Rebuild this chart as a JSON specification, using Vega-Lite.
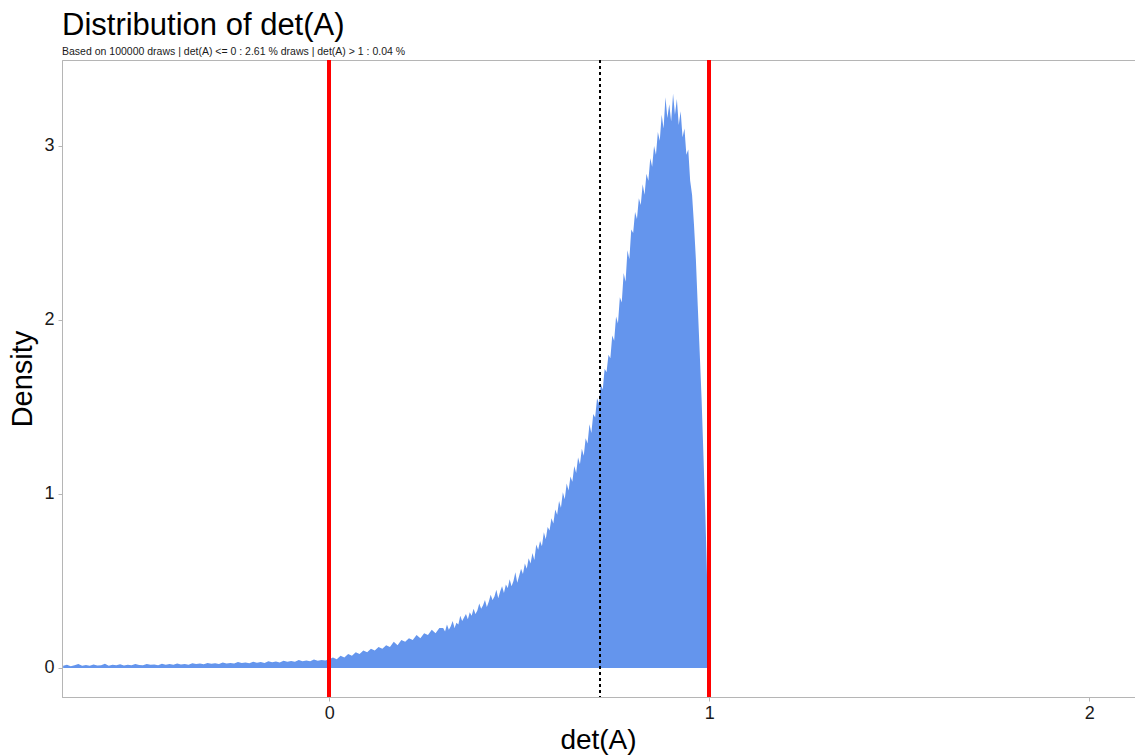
{
  "$schema": "https://vega.github.io/schema/vega-lite/v6.json",
  "width": 1080,
  "height": 637,
  "autosize": {"type": "none"},
  "padding": {"left": 62, "top": 60, "right": 0, "bottom": 58},
  "background": "white",
  "config": {
    "font": "Liberation Sans",
    "view": {"stroke": "#b5b5b5", "strokeWidth": 1},
    "axis": {"grid": false, "domainColor": "#b5b5b5", "tickColor": "#b5b5b5", "tickSize": 4, "labelColor": "#1a1a1a", "titleColor": "#000000", "labelFont": "Liberation Sans", "titleFont": "Liberation Sans", "titleFontWeight": "normal"}
  },
  "title": {
    "text": "Distribution of det(A)",
    "subtitle": "Based on 100000 draws | det(A) <= 0 : 2.61 % draws | det(A) > 1 : 0.04 %",
    "anchor": "start",
    "frame": "group",
    "fontSize": 31,
    "fontWeight": "normal",
    "font": "Liberation Sans",
    "color": "#000000",
    "subtitleFontSize": 10.5,
    "subtitleFont": "Liberation Sans",
    "subtitleColor": "#1a1a1a",
    "subtitlePadding": 5,
    "offset": 0
  },
  "data": {
    "values": [
      {"detA": -0.70, "density": 0.012}, {"detA": -0.69, "density": 0.018}, {"detA": -0.68, "density": 0.010}, {"detA": -0.67, "density": 0.015},
      {"detA": -0.66, "density": 0.022}, {"detA": -0.65, "density": 0.013}, {"detA": -0.64, "density": 0.017}, {"detA": -0.63, "density": 0.012},
      {"detA": -0.62, "density": 0.020}, {"detA": -0.61, "density": 0.014}, {"detA": -0.60, "density": 0.016}, {"detA": -0.59, "density": 0.024},
      {"detA": -0.58, "density": 0.013}, {"detA": -0.57, "density": 0.018}, {"detA": -0.56, "density": 0.015}, {"detA": -0.55, "density": 0.021},
      {"detA": -0.54, "density": 0.014}, {"detA": -0.53, "density": 0.019}, {"detA": -0.52, "density": 0.016}, {"detA": -0.51, "density": 0.022},
      {"detA": -0.50, "density": 0.017}, {"detA": -0.49, "density": 0.015}, {"detA": -0.48, "density": 0.023}, {"detA": -0.47, "density": 0.018},
      {"detA": -0.46, "density": 0.020}, {"detA": -0.45, "density": 0.016}, {"detA": -0.44, "density": 0.024}, {"detA": -0.43, "density": 0.019},
      {"detA": -0.42, "density": 0.022}, {"detA": -0.41, "density": 0.018}, {"detA": -0.40, "density": 0.025}, {"detA": -0.39, "density": 0.020},
      {"detA": -0.38, "density": 0.023}, {"detA": -0.37, "density": 0.019}, {"detA": -0.36, "density": 0.027}, {"detA": -0.35, "density": 0.022},
      {"detA": -0.34, "density": 0.025}, {"detA": -0.33, "density": 0.021}, {"detA": -0.32, "density": 0.029}, {"detA": -0.31, "density": 0.024},
      {"detA": -0.30, "density": 0.027}, {"detA": -0.29, "density": 0.023}, {"detA": -0.28, "density": 0.031}, {"detA": -0.27, "density": 0.026},
      {"detA": -0.26, "density": 0.029}, {"detA": -0.25, "density": 0.025}, {"detA": -0.24, "density": 0.034}, {"detA": -0.23, "density": 0.028},
      {"detA": -0.22, "density": 0.031}, {"detA": -0.21, "density": 0.027}, {"detA": -0.20, "density": 0.036}, {"detA": -0.19, "density": 0.030},
      {"detA": -0.18, "density": 0.034}, {"detA": -0.17, "density": 0.029}, {"detA": -0.16, "density": 0.039}, {"detA": -0.15, "density": 0.033},
      {"detA": -0.14, "density": 0.037}, {"detA": -0.13, "density": 0.032}, {"detA": -0.12, "density": 0.042}, {"detA": -0.11, "density": 0.036},
      {"detA": -0.10, "density": 0.040}, {"detA": -0.09, "density": 0.035}, {"detA": -0.08, "density": 0.045}, {"detA": -0.07, "density": 0.038},
      {"detA": -0.06, "density": 0.043}, {"detA": -0.05, "density": 0.039}, {"detA": -0.04, "density": 0.048}, {"detA": -0.03, "density": 0.041},
      {"detA": -0.02, "density": 0.046}, {"detA": -0.01, "density": 0.043},
      {"detA": 0.00, "density": 0.05}, {"detA": 0.01, "density": 0.06}, {"detA": 0.02, "density": 0.05}, {"detA": 0.03, "density": 0.07},
      {"detA": 0.04, "density": 0.06}, {"detA": 0.05, "density": 0.08}, {"detA": 0.06, "density": 0.07}, {"detA": 0.07, "density": 0.09},
      {"detA": 0.08, "density": 0.08}, {"detA": 0.09, "density": 0.10}, {"detA": 0.10, "density": 0.09}, {"detA": 0.11, "density": 0.11},
      {"detA": 0.12, "density": 0.10}, {"detA": 0.13, "density": 0.12}, {"detA": 0.14, "density": 0.11}, {"detA": 0.15, "density": 0.13},
      {"detA": 0.16, "density": 0.12}, {"detA": 0.17, "density": 0.15}, {"detA": 0.18, "density": 0.13}, {"detA": 0.19, "density": 0.16},
      {"detA": 0.20, "density": 0.15}, {"detA": 0.21, "density": 0.17}, {"detA": 0.22, "density": 0.16}, {"detA": 0.23, "density": 0.19},
      {"detA": 0.24, "density": 0.17}, {"detA": 0.25, "density": 0.20}, {"detA": 0.26, "density": 0.19}, {"detA": 0.27, "density": 0.22},
      {"detA": 0.28, "density": 0.20}, {"detA": 0.29, "density": 0.23},
      {"detA": 0.300, "density": 0.23}, {"detA": 0.305, "density": 0.21}, {"detA": 0.310, "density": 0.25}, {"detA": 0.315, "density": 0.22},
      {"detA": 0.320, "density": 0.24}, {"detA": 0.325, "density": 0.27}, {"detA": 0.330, "density": 0.23}, {"detA": 0.335, "density": 0.26},
      {"detA": 0.340, "density": 0.25}, {"detA": 0.345, "density": 0.30}, {"detA": 0.350, "density": 0.27}, {"detA": 0.355, "density": 0.29},
      {"detA": 0.360, "density": 0.31}, {"detA": 0.365, "density": 0.28}, {"detA": 0.370, "density": 0.32}, {"detA": 0.375, "density": 0.30},
      {"detA": 0.380, "density": 0.34}, {"detA": 0.385, "density": 0.31}, {"detA": 0.390, "density": 0.33}, {"detA": 0.395, "density": 0.37},
      {"detA": 0.400, "density": 0.34}, {"detA": 0.405, "density": 0.36}, {"detA": 0.410, "density": 0.39}, {"detA": 0.415, "density": 0.35},
      {"detA": 0.420, "density": 0.38}, {"detA": 0.425, "density": 0.42}, {"detA": 0.430, "density": 0.39}, {"detA": 0.435, "density": 0.41},
      {"detA": 0.440, "density": 0.45}, {"detA": 0.445, "density": 0.40}, {"detA": 0.450, "density": 0.44}, {"detA": 0.455, "density": 0.47},
      {"detA": 0.460, "density": 0.43}, {"detA": 0.465, "density": 0.48}, {"detA": 0.470, "density": 0.46}, {"detA": 0.475, "density": 0.51},
      {"detA": 0.480, "density": 0.47}, {"detA": 0.485, "density": 0.50}, {"detA": 0.490, "density": 0.55}, {"detA": 0.495, "density": 0.49},
      {"detA": 0.500, "density": 0.53}, {"detA": 0.505, "density": 0.57}, {"detA": 0.510, "density": 0.54}, {"detA": 0.515, "density": 0.60},
      {"detA": 0.520, "density": 0.57}, {"detA": 0.525, "density": 0.63}, {"detA": 0.530, "density": 0.60}, {"detA": 0.535, "density": 0.66},
      {"detA": 0.540, "density": 0.62}, {"detA": 0.545, "density": 0.71}, {"detA": 0.550, "density": 0.68}, {"detA": 0.555, "density": 0.73},
      {"detA": 0.560, "density": 0.70}, {"detA": 0.565, "density": 0.78}, {"detA": 0.570, "density": 0.74}, {"detA": 0.575, "density": 0.81},
      {"detA": 0.580, "density": 0.79}, {"detA": 0.585, "density": 0.86}, {"detA": 0.590, "density": 0.83}, {"detA": 0.595, "density": 0.91},
      {"detA": 0.600, "density": 0.88}, {"detA": 0.605, "density": 0.96}, {"detA": 0.610, "density": 0.92}, {"detA": 0.615, "density": 1.01},
      {"detA": 0.620, "density": 0.97}, {"detA": 0.625, "density": 1.06}, {"detA": 0.630, "density": 1.02}, {"detA": 0.635, "density": 1.10},
      {"detA": 0.640, "density": 1.07}, {"detA": 0.645, "density": 1.16}, {"detA": 0.650, "density": 1.12}, {"detA": 0.655, "density": 1.21},
      {"detA": 0.660, "density": 1.17}, {"detA": 0.665, "density": 1.26}, {"detA": 0.670, "density": 1.22}, {"detA": 0.675, "density": 1.32},
      {"detA": 0.680, "density": 1.29}, {"detA": 0.685, "density": 1.40}, {"detA": 0.690, "density": 1.35}, {"detA": 0.695, "density": 1.46},
      {"detA": 0.700, "density": 1.44}, {"detA": 0.705, "density": 1.55}, {"detA": 0.710, "density": 1.52}, {"detA": 0.715, "density": 1.63},
      {"detA": 0.720, "density": 1.60}, {"detA": 0.725, "density": 1.72}, {"detA": 0.730, "density": 1.70}, {"detA": 0.735, "density": 1.80},
      {"detA": 0.740, "density": 1.78}, {"detA": 0.745, "density": 1.91}, {"detA": 0.750, "density": 1.88}, {"detA": 0.755, "density": 2.02},
      {"detA": 0.760, "density": 1.98}, {"detA": 0.765, "density": 2.13}, {"detA": 0.770, "density": 2.10}, {"detA": 0.775, "density": 2.27},
      {"detA": 0.780, "density": 2.22}, {"detA": 0.785, "density": 2.40}, {"detA": 0.790, "density": 2.35}, {"detA": 0.795, "density": 2.52},
      {"detA": 0.800, "density": 2.50}, {"detA": 0.805, "density": 2.62}, {"detA": 0.810, "density": 2.58}, {"detA": 0.815, "density": 2.70},
      {"detA": 0.820, "density": 2.66}, {"detA": 0.825, "density": 2.78}, {"detA": 0.830, "density": 2.72}, {"detA": 0.835, "density": 2.84},
      {"detA": 0.840, "density": 2.80}, {"detA": 0.845, "density": 2.93}, {"detA": 0.850, "density": 2.88}, {"detA": 0.855, "density": 3.00},
      {"detA": 0.860, "density": 2.95}, {"detA": 0.865, "density": 3.08}, {"detA": 0.870, "density": 3.03}, {"detA": 0.875, "density": 3.18},
      {"detA": 0.880, "density": 3.10}, {"detA": 0.885, "density": 3.28}, {"detA": 0.890, "density": 3.16}, {"detA": 0.895, "density": 3.24},
      {"detA": 0.900, "density": 3.14}, {"detA": 0.905, "density": 3.30}, {"detA": 0.910, "density": 3.18}, {"detA": 0.915, "density": 3.27},
      {"detA": 0.920, "density": 3.12}, {"detA": 0.925, "density": 3.20}, {"detA": 0.930, "density": 3.05}, {"detA": 0.935, "density": 3.10},
      {"detA": 0.940, "density": 2.95}, {"detA": 0.945, "density": 2.98}, {"detA": 0.950, "density": 2.80}, {"detA": 0.955, "density": 2.72},
      {"detA": 0.960, "density": 2.55}, {"detA": 0.965, "density": 2.35}, {"detA": 0.970, "density": 2.08}, {"detA": 0.975, "density": 1.82},
      {"detA": 0.980, "density": 1.55}, {"detA": 0.985, "density": 1.22}, {"detA": 0.990, "density": 0.88}, {"detA": 0.995, "density": 0.48},
      {"detA": 1.000, "density": 0}
    ]
  },
  "encoding": {
    "x": {"field": "detA", "type": "quantitative", "title": "det(A)",
      "scale": {"domain": [-0.703, 2.139], "nice": false, "zero": false},
      "axis": {"values": [0, 1, 2], "format": "d", "labelFontSize": 18, "titleFontSize": 28, "labelPadding": 3, "titlePadding": 4, "titleX": 536, "titleAlign": "center"}},
    "y": {"field": "density", "type": "quantitative", "title": "Density",
      "scale": {"domain": [-0.167, 3.494], "nice": false, "zero": false},
      "axis": {"values": [0, 1, 2, 3], "format": "d", "labelFontSize": 18, "titleFontSize": 29, "labelPadding": 4, "titlePadding": 6}}
  },
  "layer": [
    {"mark": {"type": "area", "interpolate": "linear", "color": "#6495ED", "opacity": 1, "clip": true},
     "encoding": {"y2": {"datum": 0}}},
    {"mark": {"type": "rule", "color": "#000000", "strokeWidth": 1, "strokeDash": [3, 3]},
     "encoding": {"x": {"datum": 0.713}, "y": null}},
    {"mark": {"type": "rule", "color": "#FF0000", "strokeWidth": 2.5},
     "encoding": {"x": {"datum": 0}, "y": null}},
    {"mark": {"type": "rule", "color": "#FF0000", "strokeWidth": 2.5},
     "encoding": {"x": {"datum": 1}, "y": null}}
  ]
}
